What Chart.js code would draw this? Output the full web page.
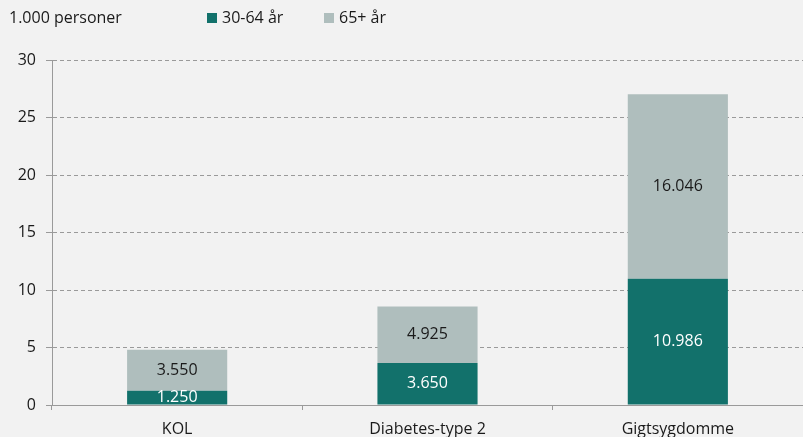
<!DOCTYPE html>
<html>
<head>
<meta charset="utf-8">
<script src="https://cdn.jsdelivr.net/npm/chart.js@4"></script>
<style>
  html, body { margin: 0; padding: 0; background: #f2f2f2; }
  #wrap { width: 803px; height: 437px; }
</style>
</head>
<body>
<div id="wrap"><canvas id="c" width="803" height="437"></canvas></div>
<script>
// Kategorier og værdier (1.000 personer)
const categories = ['KOL', 'Diabetes-type 2', 'Gigtsygdomme'];
const seriesNames = ['30-64 år', '65+ år'];
const age30to64 = [1.250, 3.650, 10.986];
const age65plus = [3.550, 4.925, 16.046];
const yTicks = [0, 5, 10, 15, 20, 25, 30];
const unitLabel = '1.000 personer';

const TEAL = '#12716b';
const GREY = '#afbebd';
const FONT = "'Open Sans', 'Noto Sans', sans-serif";
const SIZE = 16;

const fmt = v => v.toFixed(3);

// Enhedstekst og forklaring øverst
const headerPlugin = {
  id: 'header',
  afterDraw(chart) {
    const ctx = chart.ctx;
    ctx.save();
    ctx.font = SIZE + 'px ' + FONT;
    ctx.textBaseline = 'middle';
    ctx.fillStyle = '#1a1a1a';
    ctx.textAlign = 'left';
    ctx.fillText(unitLabel, 9, 18);
    const items = [
      { x: 207, color: TEAL, text: seriesNames[0] },
      { x: 324, color: GREY, text: seriesNames[1] }
    ];
    items.forEach(it => {
      ctx.fillStyle = it.color;
      ctx.fillRect(it.x, 13, 10, 10);
      ctx.fillStyle = '#1a1a1a';
      ctx.fillText(it.text, it.x + 15, 18);
    });
    ctx.restore();
  }
};

// Værdier skrevet midt i hvert segment
const valueLabelPlugin = {
  id: 'valueLabels',
  afterDatasetsDraw(chart) {
    const ctx = chart.ctx;
    const area = chart.chartArea;
    ctx.save();
    ctx.beginPath();
    ctx.rect(area.left, area.top, area.right - area.left, area.bottom - area.top);
    ctx.clip();
    ctx.font = SIZE + 'px ' + FONT;
    ctx.textAlign = 'center';
    ctx.textBaseline = 'middle';
    chart.data.datasets.forEach((ds, di) => {
      const meta = chart.getDatasetMeta(di);
      meta.data.forEach((bar, i) => {
        const yMid = (bar.y + bar.base) / 2;
        ctx.fillStyle = di === 0 ? '#ffffff' : '#1a1a1a';
        ctx.fillText(fmt(ds.data[i]), bar.x, yMid);
      });
    });
    ctx.restore();
  }
};

new Chart(document.getElementById('c'), {
  type: 'bar',
  data: {
    labels: categories,
    datasets: [
      { label: seriesNames[0], data: age30to64, backgroundColor: TEAL },
      { label: seriesNames[1], data: age65plus, backgroundColor: GREY }
    ]
  },
  options: {
    responsive: false,
    animation: false,
    devicePixelRatio: 1,
    layout: { padding: { top: 60, right: 0, bottom: 0, left: 0 } },
    plugins: {
      legend: { display: false },
      tooltip: { enabled: false }
    },
    datasets: {
      bar: { categoryPercentage: 1.0, barPercentage: 0.4 }
    },
    scales: {
      x: {
        stacked: true,
        offset: true,
        grid: {
          offset: true,
          drawOnChartArea: false,
          drawTicks: true,
          tickLength: 5,
          color: '#9a9a9a',
          lineWidth: 1
        },
        border: { display: true, color: '#9a9a9a', width: 1 },
        ticks: {
          color: '#1a1a1a',
          font: { family: FONT, size: SIZE },
          padding: 10,
          maxRotation: 0
        },
        afterFit(scale) { scale.height = 32; }
      },
      y: {
        stacked: true,
        min: 0,
        max: 30,
        afterBuildTicks(scale) { scale.ticks = yTicks.map(v => ({ value: v })); },
        grid: {
          color: ctx => (ctx.tick && ctx.tick.value === 0) ? 'rgba(0,0,0,0)' : '#9a9a9a',
          lineWidth: 1,
          tickLength: 6,
          tickColor: '#9a9a9a'
        },
        border: { display: true, color: '#9a9a9a', width: 1, dash: [4, 3] },
        ticks: {
          color: '#1a1a1a',
          font: { family: FONT, size: SIZE },
          padding: 10
        },
        afterFit(scale) { scale.width = 52; }
      }
    }
  },
  plugins: [headerPlugin, valueLabelPlugin]
});
</script>
</body>
</html>
